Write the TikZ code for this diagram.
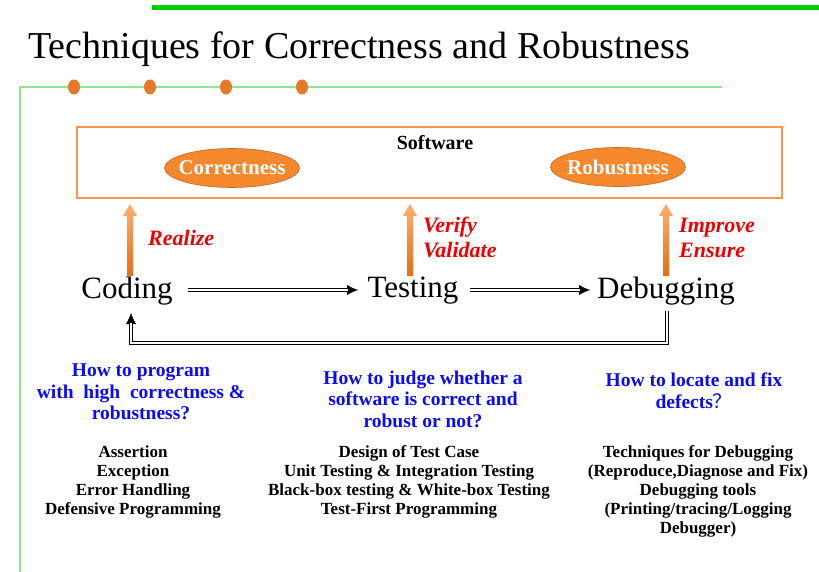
\documentclass[tikz,border=0pt]{standalone}
\usepackage{fontspec}
\setmainfont{Liberation Serif}
\newfontfamily\cjk{Noto Sans CJK SC}
\usetikzlibrary{arrows.meta,calc,shapes.geometric}
\definecolor{topgreen}{RGB}{0,204,0}
\definecolor{lightgreen}{RGB}{140,230,140}
\definecolor{dotorange}{RGB}{230,120,40}
\definecolor{boxorange}{RGB}{250,150,80}
\definecolor{ellorange}{RGB}{245,135,45}
\definecolor{ellborder}{RGB}{200,100,30}
\definecolor{arrtop}{RGB}{255,175,110}
\definecolor{arrbot}{RGB}{230,110,20}
\definecolor{qblue}{RGB}{10,10,255}
\definecolor{lblred}{RGB}{240,0,0}
\tikzset{
  stage/.style={inner sep=0pt, font=\fontsize{31}{33}\selectfont},
  oval/.style={ellipse, fill=ellorange, draw=ellborder, line width=0.6pt, minimum width=135pt, minimum height=39pt, inner xsep=-12pt, inner ysep=0pt, text=white, font=\bfseries\fontsize{21}{23}\selectfont},
  redlbl/.style={anchor=west, align=left, inner sep=0pt, text=lblred, font=\bfseries\itshape\fontsize{22}{25}\selectfont},
  question/.style={align=center, inner sep=0pt, text=qblue, font=\bfseries\fontsize{19.5}{21.5}\selectfont},
  techlist/.style={align=center, inner sep=0pt, font=\bfseries\fontsize{17}{19}\selectfont},
  dot/.style={ellipse, fill=dotorange, minimum width=12pt, minimum height=15pt, inner sep=0pt},
}
\newcommand\orangeup[2]{%
  \shade[top color=arrtop, bottom color=arrbot]
    ($(#1)+(-3,0)$) -- ($(#2)+(-3,12)$) -- ($(#2)+(-7,12)$) -- (#2)
    -- ($(#2)+(7,12)$) -- ($(#2)+(3,12)$) -- ($(#1)+(3,0)$) -- cycle;}
\begin{document}
\begin{tikzpicture}[x=1pt,y=-1pt]
\useasboundingbox (0,0) rectangle (819,572);
% decoration lines
\fill[topgreen] (152,5.5) rectangle (819,10.5);
\draw[lightgreen, line width=1.5pt] (20,572) -- (20,87) -- (722,87);
\foreach \i/\x in {1/74,2/150,3/226,4/302} \node[dot] (d\i) at (\x,87) {};
% title
\node[anchor=base west, inner sep=0pt, font=\fontsize{38}{40}\selectfont] (title) at (28,59) {Techniques for Correctness and Robustness};
% software box
\draw[boxorange, line width=1.3pt] (77,127) rectangle (782,198);
\node[inner sep=0pt, font=\bfseries\fontsize{20}{22}\selectfont] (software) at (435,143) {Software};
\node[oval] (corr) at (232,168) {Correctness};
\node[oval] (rob) at (618,167) {Robustness};
% stages
\node[stage] (coding) at (127,291) {Coding};
\node[stage] (testing) at (413,291) {Testing};
\node[stage] (debug) at (666,291) {Debugging};
% orange arrows
\coordinate (c1) at (130,276); \coordinate (c2) at (130,204);
\coordinate (t1) at (410,276); \coordinate (t2) at (410,204);
\coordinate (g1) at (666,276); \coordinate (g2) at (666,204);
\orangeup{c1}{c2}
\orangeup{t1}{t2}
\orangeup{g1}{g2}
\node[redlbl] (realize) at (148,238) {Realize};
\node[redlbl] (verify) at (423,237.5) {Verify\\Validate};
\node[redlbl] (improve) at (679,237.5) {Improve\\Ensure};
% double arrows
\coordinate (a1s) at (188,290); \coordinate (a1e) at (358,290);
\coordinate (a2s) at (470,290); \coordinate (a2e) at (590,290);
\coordinate (r1) at (667,311); \coordinate (r2) at (131,313);
\foreach \s/\e in {a1s/a1e,a2s/a2e} {
  \draw[line width=0.4pt, -{Latex[length=11pt,width=10pt]}] (\s) -- (\e);
  \draw[double, double distance=2.6pt, line width=0.9pt, shorten >=10pt] (\s) -- (\e);
}
\draw[line width=0.4pt, -{Latex[length=11pt,width=10pt]}] (r1) -- (667,343) -- (131,343) -- (r2);
\draw[double, double distance=2.6pt, line width=0.9pt, shorten >=10pt] (r1) -- (667,343) -- (131,343) -- (r2);
% questions
\node[question] (q1) at (141,392) {How to program\\with\ \ high\ \ correctness \&\\robustness?};
\node[question] (q2) at (423,399) {How to judge whether a\\software is correct and\\robust or not?};
\node[question] (q3) at (694,390.5) {How to locate and fix\\defects{\cjk\mdseries ？}};
% lists
\node[techlist] (l1) at (133,481.5) {Assertion\\Exception\\Error Handling\\Defensive Programming};
\node[techlist] (l2) at (409,481.5) {Design of Test Case\\Unit Testing \& Integration Testing\\Black-box testing \& White-box Testing\\Test-First Programming};
\node[techlist] (l3) at (698,491) {Techniques for Debugging\\(Reproduce,Diagnose and Fix)\\Debugging tools\\(Printing/tracing/Logging\\Debugger)};
\end{tikzpicture}
\end{document}
